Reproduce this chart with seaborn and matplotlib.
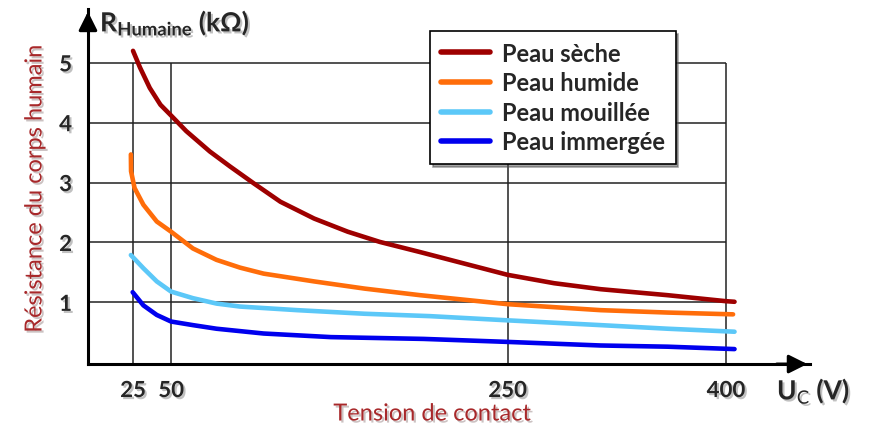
import numpy as np
import pandas as pd
import matplotlib
matplotlib.use("Agg")
import matplotlib.pyplot as plt
import matplotlib.patheffects as pe
from matplotlib.lines import Line2D
import seaborn as sns

# values (U in V, R in kOhm)
seche_u = [25, 29.6, 36, 43, 50, 59, 73, 85, 99, 115, 135, 155, 174, 198, 224, 250, 282, 314, 360, 400, 406]
seche_r = [5.2, 4.92, 4.58, 4.3, 4.12, 3.86, 3.52, 3.27, 2.99, 2.68, 2.4, 2.18, 2.01, 1.84, 1.65,
           1.46, 1.32, 1.22, 1.12, 1.02, 1.01]
humide_u = [23.8, 23.9, 26, 31.8, 40.6, 50, 63, 77, 91, 105, 135, 165, 198, 250, 314, 360, 405]
humide_r = [3.47, 3.19, 2.91, 2.63, 2.35, 2.18, 1.9, 1.71, 1.58, 1.48, 1.35, 1.23, 1.12, 0.97,
            0.87, 0.83, 0.80]
mouillee_u = [23.8, 31.8, 40.6, 50, 63, 77, 91, 125, 165, 204, 250, 314, 360, 406]
mouillee_r = [1.79, 1.57, 1.35, 1.18, 1.07, 0.98, 0.93, 0.87, 0.81, 0.77, 0.70, 0.62, 0.56, 0.51]
immergee_u = [24.8, 31.8, 40.6, 50, 63, 77, 91, 105, 145, 200, 250, 314, 360, 406]
immergee_r = [1.17, 0.95, 0.79, 0.68, 0.62, 0.56, 0.52, 0.48, 0.42, 0.39, 0.34, 0.28, 0.26, 0.22]

labels = ["Peau sèche", "Peau humide", "Peau mouillée", "Peau immergée"]
colors = ["#9e0000", "#ff6d0a", "#5cc8f8", "#0000ee"]
x_ticks = [25, 50, 250, 400]
y_ticks = [1, 2, 3, 4, 5]

sns.set_style("white")
plt.rcParams["font.family"] = ["Lato", "DejaVu Sans"]
plt.rcParams["mathtext.fontset"] = "custom"
plt.rcParams["mathtext.rm"] = "Lato"
plt.rcParams["mathtext.bf"] = "Lato:bold"

frames = []
for lab, u, r in zip(labels, [seche_u, humide_u, mouillee_u, immergee_u],
                     [seche_r, humide_r, mouillee_r, immergee_r]):
    frames.append(pd.DataFrame({"U": u, "R": r, "peau": lab}))
df = pd.concat(frames, ignore_index=True)

# the original axis is not drawn to scale: piecewise mapping
xk = np.array([-100, 0, 25, 50, 250, 400, 600])
pk = np.array([-92, 88, 133, 171, 507, 725, 1015])


def fwd(x):
    return np.interp(x, xk, pk)


def inv(p):
    return np.interp(p, pk, xk)


fig = plt.figure(figsize=(8.71, 4.31), dpi=100)
ax = fig.add_axes([0.101, 0.153, 0.829, 0.824])
ax.set_xscale("function", functions=(fwd, inv))

shadow = [pe.withSimplePatchShadow(offset=(1.5, -1.5), alpha=0.25)]

# grid
ax.hlines(y_ticks, 0, 400, color="#222222", lw=1.1, zorder=1)
ax.vlines(x_ticks, -0.2, 5, color="#222222", lw=1.1, zorder=1)

sns.lineplot(data=df, x="U", y="R", hue="peau", palette=colors, hue_order=labels,
             sort=False, estimator=None, lw=3.3, ax=ax, zorder=3, legend=False)
for line in ax.get_lines():
    line.set_solid_capstyle("round")
    line.set_solid_joinstyle("round")

ax.set_xlim(0, 458)
ax.set_ylim(-0.03, 5.9)
ax.set_xticks(x_ticks)
ax.set_yticks(y_ticks)
ax.set_xticklabels([str(v) for v in x_ticks], fontweight="bold", fontsize=16)
ax.set_yticklabels([str(v) for v in y_ticks], fontweight="bold", fontsize=16)
ax.tick_params(axis="both", direction="inout", length=15, width=1.8, color="k")
ax.tick_params(axis="x", pad=4)
ax.tick_params(axis="y", pad=4)
for t in ax.get_xticklabels() + ax.get_yticklabels():
    t.set_path_effects(shadow)
ax.set_xlabel("")
ax.set_ylabel("")
sns.despine(ax=ax)
for s in ["left", "bottom"]:
    ax.spines[s].set_linewidth(2.2)
    ax.spines[s].set_color("k")

# axis arrows
ax.annotate("", xy=(1.0, 0), xytext=(0.95, 0), xycoords="axes fraction",
            arrowprops=dict(arrowstyle="-|>", lw=2.2, color="k", mutation_scale=28))
ax.annotate("", xy=(0, 1.0), xytext=(0, 0.95), xycoords="axes fraction",
            arrowprops=dict(arrowstyle="-|>", lw=2.2, color="k", mutation_scale=28))

# legend
handles = [Line2D([], [], color=c, lw=4, solid_capstyle="round") for c in colors]
leg = ax.legend(handles, labels, loc="upper left", bbox_to_anchor=(430 / 871, 1 - 32 / 431),
                bbox_transform=fig.transFigure, frameon=True, fancybox=False, shadow=True,
                prop={"weight": "bold", "size": 17}, handlelength=2.1, handletextpad=0.5,
                labelspacing=0.28, borderpad=0.45, borderaxespad=0)
leg.get_frame().set_edgecolor("k")
leg.get_frame().set_linewidth(1.2)
leg.set_zorder(5)

fig.text(100 / 871, 1 - 24 / 431, r"$\mathbf{R_{Humaine}}$ $\mathbf{(k\Omega)}$",
         fontsize=19, fontweight="bold", va="center", ha="left", path_effects=shadow)
fig.text(777 / 871, 1 - 392 / 431, r"U$_\mathrm{C}$ (V)", fontsize=19, fontweight="bold",
         va="center", ha="left", path_effects=shadow)
fig.text(35 / 871, 1 - 190 / 431, "Résistance du corps humain", rotation=90, color="#a8282a",
         fontsize=17, va="center", ha="center", path_effects=shadow)
fig.text(432 / 871, 1 - 415 / 431, "Tension de contact", color="#a8282a",
         fontsize=17, va="center", ha="center", path_effects=shadow)

fig.savefig("out.png", dpi=100)
